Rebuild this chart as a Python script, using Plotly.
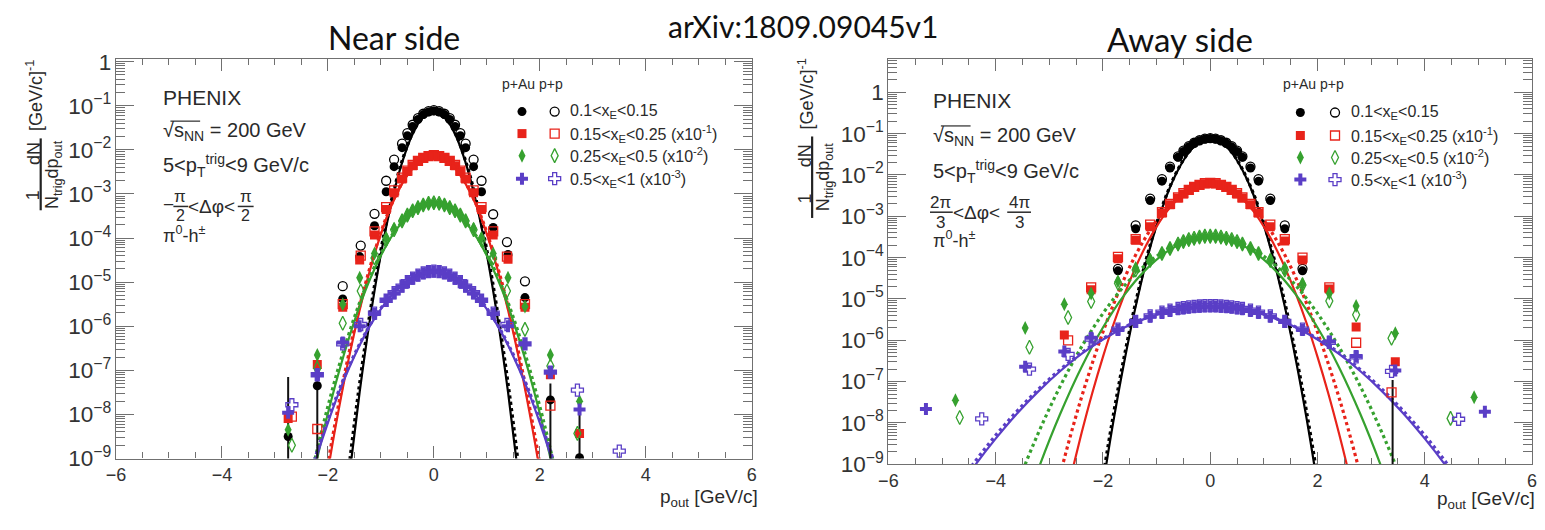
import plotly.graph_objects as go

W, H = 1545, 530

# ---------------- DATA (values are log10 of 1/Ntrig dN/dpout) -------------
series_labels = ["0.1&lt;x<sub>E</sub>&lt;0.15",
                 "0.15&lt;x<sub>E</sub>&lt;0.25 (x10<sup>-1</sup>)",
                 "0.25&lt;x<sub>E</sub>&lt;0.5 (x10<sup>-2</sup>)",
                 "0.5&lt;x<sub>E</sub>&lt;1 (x10<sup>-3</sup>)"]

# ---- Near side ----
near_x_pAu = [-2.75, -2.2, -1.72, -1.4, -1.12, -0.9, -0.75, -0.6, -0.5, -0.4, -0.3, -0.2, -0.1, 0.0,
              0.1, 0.2, 0.3, 0.4, 0.5, 0.6, 0.75, 0.9, 1.12, 1.4, 1.72, 2.2, 2.75]
near_x_pp = [-2.68, -2.2, -1.72, -1.38, -1.12, -0.9, -0.75, -0.6, -0.5, -0.4, -0.3, -0.2, -0.1, 0.0,
             0.1, 0.2, 0.3, 0.4, 0.5, 0.6, 0.75, 0.9, 1.12, 1.38, 1.72, 2.2, 2.71, 3.5]

near_black_pAu = [-8.5, -7.35, -5.38, -4.42, -3.72, -2.95, -2.38, -1.95, -1.68, -1.47, -1.31, -1.2, -1.14, -1.12,
                  -1.14, -1.2, -1.31, -1.47, -1.68, -1.95, -2.38, -2.95, -3.76, -4.37, -5.35, -7.67, -8.98]
near_black_pp = [None, None, -5.09, -4.17, -3.45, -2.7, -2.22, -1.86, -1.62, -1.43, -1.28, -1.18, -1.12, -1.1,
                 -1.12, -1.18, -1.28, -1.43, -1.62, -1.86, -2.22, -2.7, -3.46, -4.09, -4.98, None, None, None]
near_red_pAu = [-8.09, -6.87, -5.57, -4.5, -3.93, -3.35, -2.97, -2.66, -2.49, -2.36, -2.26, -2.19, -2.15, -2.13,
                -2.15, -2.19, -2.26, -2.36, -2.49, -2.66, -2.97, -3.35, -3.93, -4.48, -5.57, -7.1, -8.43]
near_red_pp = [-8.05, -8.33, -5.5, -4.4, -3.85, -3.3, -2.92, -2.63, -2.47, -2.34, -2.25, -2.18, -2.14, -2.12,
               -2.14, -2.18, -2.25, -2.34, -2.47, -2.63, -2.92, -3.3, -3.85, -4.42, -5.5, -7.8, None, None]
near_green_pAu = [-8.35, -6.65, -5.5, -4.9, -4.35, -3.99, -3.79, -3.6, -3.48, -3.38, -3.31, -3.25, -3.22, -3.21,
                  -3.22, -3.25, -3.31, -3.38, -3.48, -3.6, -3.79, -3.99, -4.35, -4.9, -5.55, -6.65, -7.7]
near_green_pp = [-8.7, -6.95, -5.93, -5.2, -4.45, -4.04, -3.81, -3.61, -3.48, -3.38, -3.31, -3.25, -3.21, -3.2,
                 -3.21, -3.25, -3.31, -3.38, -3.48, -3.61, -3.81, -4.04, -4.45, -5.2, -6.07, -6.9, -8.43, None]
near_blue_pAu = [-7.96, -7.09, -6.37, -6.0, -5.72, -5.42, -5.25, -5.1, -5.0, -4.92, -4.85, -4.8, -4.77, -4.76,
                 -4.77, -4.8, -4.85, -4.92, -5.0, -5.1, -5.25, -5.42, -5.72, -6.0, -6.4, -7.04, -7.89]
near_blue_pp = [-7.78, -7.1, -6.4, -5.96, -5.7, -5.41, -5.24, -5.09, -4.99, -4.91, -4.84, -4.79, -4.76, -4.75,
                -4.76, -4.79, -4.84, -4.91, -4.99, -5.09, -5.24, -5.41, -5.7, -5.96, -6.4, -7.04, -7.45, -8.83]

near_err_x = [-2.75, -2.2, 2.2, 2.75]
near_err_lo = [-9.6, -9.6, -9.6, -9.6]
near_err_hi = [-7.15, -7.25, -7.3, -8.0]

# fit curves (p >= 0 half, symmetric Gaussians)
near_fit_x_black = [0.0, 0.2, 0.4, 0.6, 0.8, 1.0, 1.2, 1.4, 1.6, 1.8]
near_fit_black_pAu = [-1.12, -1.25, -1.64, -2.29, -3.2, -4.37, -5.8, -7.49, -9.44, -11.65]
near_fit_black_pp = [-1.12, -1.25, -1.62, -2.25, -3.14, -4.27, -5.66, -7.29, -9.18, -11.33]
near_fit_x_red = [0.0, 0.2, 0.4, 0.6, 0.8, 1.0, 1.2, 1.4, 1.6, 1.8, 2.0, 2.2]
near_fit_red_pAu = [-2.13, -2.2, -2.41, -2.77, -3.26, -3.91, -4.7, -5.63, -6.7, -7.92, -9.28, -10.78]
near_fit_red_pp = [-2.13, -2.2, -2.4, -2.75, -3.24, -3.87, -4.64, -5.55, -6.6, -7.79, -9.12, -10.59]
near_fit_x_green = [0.0, 0.2, 0.4, 0.6, 0.8, 1.0, 1.2, 1.4, 1.6, 1.8, 2.0, 2.2, 2.4]
near_fit_green_pAu = [-3.21, -3.26, -3.4, -3.64, -3.97, -4.4, -4.92, -5.54, -6.26, -7.07, -7.98, -8.99, -10.09]
near_fit_green_pp = [-3.21, -3.26, -3.4, -3.63, -3.95, -4.36, -4.86, -5.46, -6.16, -6.94, -7.82, -8.79, -9.86]
near_fit_x_blue = [0.0, 0.2, 0.4, 0.6, 0.8, 1.0, 1.2, 1.4, 1.6, 1.8, 2.0, 2.2, 2.4]
near_fit_blue_pAu = [-4.76, -4.8, -4.9, -5.07, -5.3, -5.61, -5.98, -6.43, -6.95, -7.53, -8.19, -8.91, -9.7]
near_fit_blue_pp = [-4.76, -4.79, -4.9, -5.06, -5.29, -5.59, -5.96, -6.4, -6.9, -7.48, -8.12, -8.83, -9.6]

# ---- Away side ----
away_x_pAu = [-5.3, -4.75, -3.45, -2.72, -2.22, -1.72, -1.39, -1.12, -0.9, -0.75, -0.6, -0.5, -0.4, -0.3, -0.2,
              -0.1, 0.0, 0.1, 0.2, 0.3, 0.4, 0.5, 0.6, 0.75, 0.9, 1.12, 1.39, 1.72, 2.22, 2.72, 3.45, 4.92, 5.12]
away_x_pp = [-4.67, -4.26, -3.37, -2.65, -2.22, -1.72, -1.39, -1.12, -0.9, -0.75, -0.6, -0.5, -0.4, -0.3, -0.2,
             -0.1, 0.0, 0.1, 0.2, 0.3, 0.4, 0.5, 0.6, 0.75, 0.9, 1.12, 1.39, 1.72, 2.22, 2.72, 3.38, 4.48, 4.63]

away_black_pAu = [None, None, None, None, None, -4.32, -3.3, -2.62, -2.15, -1.83, -1.57, -1.43, -1.32, -1.23, -1.17,
                  -1.13, -1.12, -1.13, -1.17, -1.23, -1.32, -1.43, -1.57, -1.83, -2.15, -2.62, -3.3, -4.32,
                  None, None, None, None, None]
away_black_pp = [None, None, None, None, None, -4.27, -3.22, -2.57, -2.1, -1.8, -1.55, -1.41, -1.3, -1.22, -1.16,
                 -1.12, -1.11, -1.12, -1.16, -1.22, -1.3, -1.41, -1.55, -1.8, -2.1, -2.57, -3.22, -4.27,
                 None, None, None, None, None]
away_red_pAu = [None, None, None, -5.87, -4.78, -4.03, -3.58, -3.25, -2.92, -2.72, -2.56, -2.46, -2.37, -2.3, -2.25,
                -2.21, -2.2, -2.21, -2.25, -2.3, -2.37, -2.46, -2.56, -2.72, -2.92, -3.25, -3.6, -4.06, -4.76,
                -5.68, -6.52, None, None]
away_red_pp = [None, None, None, -6.0, -4.72, -3.98, -3.55, -3.2, -2.9, -2.7, -2.54, -2.44, -2.36, -2.29, -2.24,
               -2.2, -2.19, -2.2, -2.24, -2.29, -2.36, -2.44, -2.54, -2.7, -2.9, -3.2, -3.55, -4.0, -4.72,
               -6.06, -7.26, None, None]
away_green_pAu = [None, -7.45, -5.7, -5.13, -4.87, -4.57, -4.25, -4.05, -3.9, -3.78, -3.68, -3.62, -3.58, -3.55,
                  -3.52, -3.5, -3.5, -3.5, -3.52, -3.55, -3.58, -3.62, -3.68, -3.78, -3.9, -4.05, -4.25, -4.64,
                  -4.87, -5.17, -5.83, -7.38, None]
away_green_pp = [-7.87, None, -6.17, -5.45, -5.06, -4.62, -4.3, -4.07, -3.9, -3.78, -3.67, -3.61, -3.56, -3.53,
                 -3.5, -3.48, -3.48, -3.48, -3.5, -3.53, -3.56, -3.61, -3.67, -3.78, -3.9, -4.07, -4.3, -4.66,
                 -5.05, -5.38, -5.95, -7.89, None]
away_blue_pAu = [-7.66, None, -6.64, -6.27, -5.94, -5.75, -5.56, -5.43, -5.34, -5.29, -5.25, -5.23, -5.21, -5.2,
                 -5.19, -5.18, -5.18, -5.18, -5.19, -5.2, -5.21, -5.23, -5.25, -5.29, -5.34, -5.43, -5.56, -5.75,
                 -6.03, -6.38, -6.73, None, -7.73]
away_blue_pp = [None, -7.9, -6.7, -6.34, -5.97, -5.73, -5.54, -5.41, -5.32, -5.27, -5.23, -5.21, -5.19, -5.18,
                -5.17, -5.16, -5.16, -5.16, -5.17, -5.18, -5.19, -5.21, -5.23, -5.27, -5.32, -5.41, -5.54, -5.73,
                -6.05, -6.4, -6.75, None, -7.91]

away_err_x = [3.4]
away_err_lo = [-9.6]
away_err_hi = [-6.96]

away_fit_x_black = [0.0, 0.2, 0.4, 0.6, 0.8, 1.0, 1.2, 1.4, 1.6, 1.8, 2.0, 2.2]
away_fit_black_pAu = [-1.12, -1.2, -1.46, -1.88, -2.46, -3.22, -4.14, -5.24, -6.5, -7.92, -9.52, -11.28]
away_fit_black_pp = [-1.12, -1.2, -1.45, -1.86, -2.43, -3.17, -4.07, -5.14, -6.37, -7.76, -9.32, -11.04]
away_fit_x_red_pAu = [0.0, 0.2, 0.4, 0.6, 0.8, 1.0, 1.2, 1.4, 1.6, 1.8, 2.0, 2.2, 2.4, 2.6, 2.8]
away_fit_red_pAu = [-2.2, -2.24, -2.37, -2.58, -2.87, -3.25, -3.71, -4.26, -4.89, -5.6, -6.4, -7.28, -8.25, -9.3, -10.43]
away_fit_x_red_pp = [0.0, 0.2, 0.4, 0.6, 0.8, 1.0, 1.2, 1.4, 1.6, 1.8, 2.0, 2.2, 2.4, 2.6, 2.8, 3.0]
away_fit_red_pp = [-2.2, -2.24, -2.34, -2.52, -2.78, -3.1, -3.5, -3.96, -4.5, -5.12, -5.8, -6.56, -7.38, -8.28, -9.26, -10.3]
away_fit_x_green_pAu = [0.0, 0.4, 0.8, 1.2, 1.6, 2.0, 2.4, 2.8, 3.2, 3.6]
away_fit_green_pAu = [-3.5, -3.59, -3.85, -4.29, -4.9, -5.69, -6.65, -7.79, -9.1, -10.59]
away_fit_x_green_pp = [0.0, 0.4, 0.8, 1.2, 1.6, 2.0, 2.4, 2.8, 3.2, 3.6, 4.0]
away_fit_green_pp = [-3.5, -3.57, -3.8, -4.17, -4.68, -5.35, -6.16, -7.12, -8.23, -9.49, -10.89]
away_fit_x_blue = [0.0, 0.4, 0.8, 1.2, 1.6, 2.0, 2.4, 2.8, 3.2, 3.6, 4.0, 4.4, 4.8]
away_fit_blue_pAu = [-5.18, -5.21, -5.31, -5.47, -5.69, -5.98, -6.33, -6.75, -7.23, -7.77, -8.38, -9.05, -9.79]
away_fit_blue_pp = [-5.18, -5.21, -5.3, -5.46, -5.68, -5.96, -6.3, -6.71, -7.18, -7.71, -8.3, -8.96, -9.67]

# ---------------- STYLE ----------------
COLORS = ["#000000", "#e8231a", "#36a12f", "#5a3ec6"]
SYM_FILLED = ["circle", "square", "diamond-tall", "cross"]
SYM_OPEN = ["circle-open", "square-open", "diamond-tall-open", "cross-open"]
SIZES = [9, 9, 10, 10]
TXT = "#2a2a2a"
AXC = "#707070"
FONT = "Liberation Sans, Arial, sans-serif"


def PX(x):
    return x / W


def PY(y):
    return 1 - y / H


def lin(v):
    return [None if a is None else 10 ** a for a in v]


def mirror(xh, yh):
    xs = [-a for a in xh[:0:-1]] + list(xh)
    ys = list(yh[:0:-1]) + list(yh)
    return xs, lin(ys)


fig = go.Figure()

panels = [
    dict(xa="x", ya="y",
         xpAu=near_x_pAu, xpp=near_x_pp,
         pAu=[near_black_pAu, near_red_pAu, near_green_pAu, near_blue_pAu],
         pp=[near_black_pp, near_red_pp, near_green_pp, near_blue_pp],
         fits=[(near_fit_x_black, near_fit_black_pAu, near_fit_x_black, near_fit_black_pp),
               (near_fit_x_red, near_fit_red_pAu, near_fit_x_red, near_fit_red_pp),
               (near_fit_x_green, near_fit_green_pAu, near_fit_x_green, near_fit_green_pp),
               (near_fit_x_blue, near_fit_blue_pAu, near_fit_x_blue, near_fit_blue_pp)],
         err=(near_err_x, near_err_lo, near_err_hi)),
    dict(xa="x2", ya="y2",
         xpAu=away_x_pAu, xpp=away_x_pp,
         pAu=[away_black_pAu, away_red_pAu, away_green_pAu, away_blue_pAu],
         pp=[away_black_pp, away_red_pp, away_green_pp, away_blue_pp],
         fits=[(away_fit_x_black, away_fit_black_pAu, away_fit_x_black, away_fit_black_pp),
               (away_fit_x_red_pAu, away_fit_red_pAu, away_fit_x_red_pp, away_fit_red_pp),
               (away_fit_x_green_pAu, away_fit_green_pAu, away_fit_x_green_pp, away_fit_green_pp),
               (away_fit_x_blue, away_fit_blue_pAu, away_fit_x_blue, away_fit_blue_pp)],
         err=(away_err_x, away_err_lo, away_err_hi)),
]

for P in panels:
    # fits: solid for p+Au, dotted for p+p
    for i in range(4):
        fxa, fya, fxp, fyp = P["fits"][i]
        xs, ys = mirror(fxa, fya)
        fig.add_trace(go.Scatter(x=xs, y=ys, mode="lines", xaxis=P["xa"], yaxis=P["ya"],
                                 line=dict(color=COLORS[i], width=2.2, shape="spline"),
                                 showlegend=False, hoverinfo="skip"))
        xs, ys = mirror(fxp, fyp)
        fig.add_trace(go.Scatter(x=xs, y=ys, mode="lines", xaxis=P["xa"], yaxis=P["ya"],
                                 line=dict(color=COLORS[i], width=3.2, dash="dot", shape="spline"),
                                 showlegend=False, hoverinfo="skip"))
    # big error bars
    ex, elo, ehi = P["err"]
    xs, ys = [], []
    for a, lo, hi in zip(ex, elo, ehi):
        xs += [a, a, None]
        ys += [10 ** lo, 10 ** hi, None]
    fig.add_trace(go.Scatter(x=xs, y=ys, mode="lines", xaxis=P["xa"], yaxis=P["ya"],
                             line=dict(color="#111111", width=2), showlegend=False, hoverinfo="skip"))
    # data
    for i in range(4):
        fig.add_trace(go.Scatter(x=P["xpAu"], y=lin(P["pAu"][i]), mode="markers",
                                 xaxis=P["xa"], yaxis=P["ya"],
                                 marker=dict(symbol=SYM_FILLED[i], size=SIZES[i], color=COLORS[i],
                                             line=dict(width=0)),
                                 showlegend=False))
        fig.add_trace(go.Scatter(x=P["xpp"], y=lin(P["pp"][i]), mode="markers",
                                 xaxis=P["xa"], yaxis=P["ya"],
                                 marker=dict(symbol=SYM_OPEN[i], size=SIZES[i], color=COLORS[i],
                                             line=dict(width=1.3, color=COLORS[i])),
                                 showlegend=False))

# ---------------- legends (pixel overlay axis) ----------------
legends = [dict(hx=495, hy=78, rows=[107, 130, 153, 177], fx=517, ox=550, tx=563),
           dict(hx=1283, hy=78, rows=[108, 132, 155, 178], fx=1303, ox=1338, tx=1352)]
annotations = []
for L in legends:
    for i in range(4):
        fig.add_trace(go.Scatter(x=[L["fx"]], y=[L["rows"][i]], mode="markers", xaxis="x3", yaxis="y3",
                                 marker=dict(symbol=SYM_FILLED[i], size=SIZES[i], color=COLORS[i],
                                             line=dict(width=0)), showlegend=False, hoverinfo="skip"))
        fig.add_trace(go.Scatter(x=[L["ox"]], y=[L["rows"][i]], mode="markers", xaxis="x3", yaxis="y3",
                                 marker=dict(symbol=SYM_OPEN[i], size=SIZES[i], color=COLORS[i],
                                             line=dict(width=1.3, color=COLORS[i])),
                                 showlegend=False, hoverinfo="skip"))
        annotations.append(dict(x=PX(L["tx"]), y=PY(L["rows"][i]), xref="paper", yref="paper",
                                text=series_labels[i], showarrow=False, xanchor="left", yanchor="middle",
                                font=dict(family=FONT, size=16, color=TXT)))
    annotations.append(dict(x=PX(L["hx"]), y=PY(L["hy"]), xref="paper", yref="paper", text="p+Au p+p",
                            showarrow=False, xanchor="left", yanchor="middle",
                            font=dict(family=FONT, size=14, color=TXT)))


def txt(x, y, s, size=20, xanchor="left", angle=0, family=FONT, color=TXT):
    annotations.append(dict(x=PX(x), y=PY(y), xref="paper", yref="paper", text=s, showarrow=False,
                            xanchor=xanchor, yanchor="middle", textangle=angle,
                            font=dict(family=family, size=size, color=color)))


shapes = []


def hline(x0, x1, y, w=1.5, color=TXT):
    shapes.append(dict(type="line", xref="paper", yref="paper", x0=PX(x0), x1=PX(x1), y0=PY(y), y1=PY(y),
                       line=dict(color=color, width=w)))


def vline(x, y0, y1, w=2, color=TXT):
    shapes.append(dict(type="line", xref="paper", yref="paper", x0=PX(x), x1=PX(x), y0=PY(y0), y1=PY(y1),
                       line=dict(color=color, width=w)))


# titles
TITLE_FONT = "Lato, Open Sans, sans-serif"
txt(388, 30, "Near side", size=32, xanchor="center", family=TITLE_FONT, color="#111")
txt(801, 18, "arXiv:1809.09045v1", size=30, xanchor="center", family=TITLE_FONT, color="#111")
txt(1181, 31, "Away side", size=33, xanchor="center", family=TITLE_FONT, color="#111")

# text blocks
for (x0, ys) in [(152, [92, 128, 163, 235]), (930, [95, 133, 170, 241])]:
    txt(x0, ys[0], "PHENIX", size=21)
    txt(x0, ys[1], "\u221As<sub>NN</sub> = 200 GeV", size=20)
    hline(x0 + 10, x0 + 40, ys[1] - 11, w=1.2)
    txt(x0, ys[2], "5&lt;p<sub>T</sub><sup>trig</sup>&lt;9 GeV/c", size=20)
    txt(x0, ys[3], "\u03C0<sup>0</sup>-h<sup>\u00B1</sup>", size=18)

# near side delta-phi: -pi/2 < dphi < pi/2
txt(152, 204, "\u2212", size=19)
txt(172, 196, "\u03C0", size=17, xanchor="center")
txt(172, 215, "2", size=16, xanchor="center")
hline(165, 180, 206)
txt(178, 206, "&lt;\u0394\u03C6&lt;", size=19)
txt(238, 196, "\u03C0", size=17, xanchor="center")
txt(238, 215, "2", size=16, xanchor="center")
hline(230, 246, 206)

# away side delta-phi: 2pi/3 < dphi < 4pi/3
txt(940, 202, "2\u03C0", size=17, xanchor="center")
txt(940, 223, "3", size=17, xanchor="center")
hline(929, 952, 212)
txt(950, 212, "&lt;\u0394\u03C6&lt;", size=19)
txt(1019, 202, "4\u03C0", size=17, xanchor="center")
txt(1019, 223, "3", size=17, xanchor="center")
hline(1007, 1031, 212)

# y axis titles (rotated fractions)
for (xn, xb, xd, xu, yf0, yf1, yu) in [(24, 31, 44, 25, 135, 210, 90), (803, 810, 822, 804, 133, 218, 89)]:
    txt(xn, (yf0 + yf1) / 2 + 22, "1", size=18, xanchor="center", angle=-90)
    txt(xn, (yf0 + yf1) / 2 - 22, "dN", size=18, xanchor="center", angle=-90)
    vline(xb, yf0, yf1, w=2.2, color="#222")
    txt(xd, (yf0 + yf1) / 2, "N<sub>trig</sub>dp<sub>out</sub>", size=18, xanchor="center", angle=-90)
    txt(xu, yu, "[GeV/c]<sup>-1</sup>", size=18, xanchor="center", angle=-90)

# x axis titles
txt(757, 510, "p<sub>out</sub> [GeV/c]", size=19, xanchor="right")
txt(1542, 512, "p<sub>out</sub> [GeV/c]", size=19, xanchor="right")

common_x = dict(range=[-6, 6], dtick=2, tick0=0, ticks="inside", ticklen=12, tickwidth=1, tickcolor=AXC,
                showline=True, linecolor=AXC, linewidth=1.2, mirror="ticks", showgrid=False, zeroline=False,
                tickfont=dict(family=FONT, size=18, color="#333"),
                minor=dict(dtick=0.5, ticks="inside", ticklen=6, tickcolor=AXC, showgrid=False))
common_y = dict(type="log", dtick=1, ticks="inside", ticklen=18, tickwidth=1, tickcolor=AXC,
                showline=True, linecolor=AXC, linewidth=1.2, mirror="ticks", showgrid=False, zeroline=False,
                exponentformat="power", tickfont=dict(family=FONT, size=18, color="#333"),
                minor=dict(dtick="D1", ticks="inside", ticklen=9, tickcolor=AXC, showgrid=False))

fig.update_layout(
    width=W, height=H, margin=dict(l=0, r=0, t=0, b=0),
    paper_bgcolor="white", plot_bgcolor="rgba(0,0,0,0)", showlegend=False,
    xaxis=dict(domain=[PX(107), PX(749)], anchor="y", **common_x),
    yaxis=dict(domain=[PY(469), PY(52)], anchor="x", range=[-9, 0.065], **common_y),
    xaxis2=dict(domain=[PX(887), PX(1537)], anchor="y2", **common_x),
    yaxis2=dict(domain=[PY(475), PY(52)], anchor="x2", range=[-9, 0.81], **common_y),
    xaxis3=dict(domain=[0, 1], range=[0, W], anchor="y3", visible=False, fixedrange=True),
    yaxis3=dict(domain=[0, 1], range=[H, 0], anchor="x3", visible=False, fixedrange=True),
    annotations=annotations, shapes=shapes,
)

fig.write_html("out.html")
